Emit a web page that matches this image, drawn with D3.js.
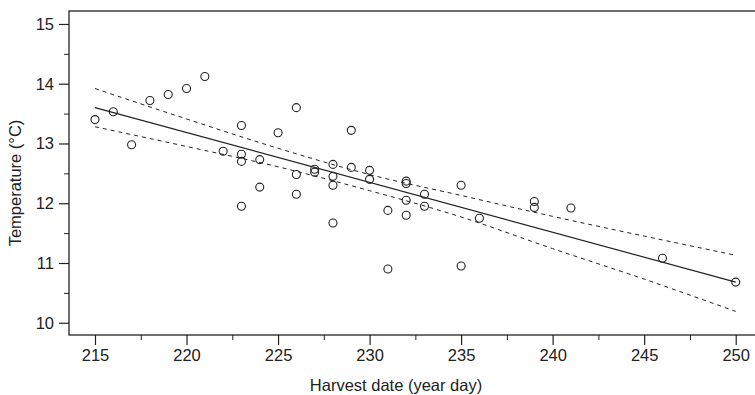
<!DOCTYPE html>
<html>
<head>
<meta charset="utf-8">
<script src="https://cdn.jsdelivr.net/npm/d3@7"></script>
<style>
  body { margin: 0; background: #fff; }
  svg { display: block; font-family: "Liberation Sans", Arial, Helvetica, sans-serif; }
  .axis path, .axis line { stroke: #222; }
  .axis text { fill: #222; font-size: 16.5px; }
</style>
</head>
<body>
<div id="chart"></div>
<script>
// harvest day / temperature observations
const harvestDay = [215, 216, 217, 218, 219, 220, 221, 222, 223, 223, 223, 223,
  224, 224, 225, 226, 226, 226, 227, 227, 228, 228, 228, 228, 229, 229,
  230, 230, 231, 231, 232, 232, 232, 232, 233, 233, 235, 235, 236, 239, 239,
  241, 246, 250];
const temperature = [13.40, 13.53, 12.98, 13.72, 13.82, 13.92, 14.12, 12.87, 13.30, 12.82, 12.70, 11.95,
  12.73, 12.27, 13.18, 13.60, 12.48, 12.15, 12.57, 12.52, 12.65, 12.45, 12.30, 11.67, 13.22, 12.60,
  12.55, 12.40, 11.88, 10.90, 12.37, 12.33, 12.05, 11.80, 12.15, 11.95, 12.30, 10.95, 11.75, 12.03, 11.93,
  11.92, 11.08, 10.68];

// fitted line and confidence band
const fitDay = [215, 250];
const fitTemp = [13.60, 10.68];
const bandDay = [215, 220, 225, 230, 235, 240, 245, 250];
const bandUpper = [13.92, 13.41, 12.92, 12.48, 12.13, 11.78, 11.45, 11.13];
const bandLower = [13.28, 12.95, 12.61, 12.21, 11.77, 11.24, 10.73, 10.19];

const xTicks = [215, 220, 225, 230, 235, 240, 245, 250];
const xMinor = [217.5, 222.5, 227.5, 232.5, 237.5, 242.5, 247.5];
const yTicks = [10, 11, 12, 13, 14, 15];
const yMinor = [10.5, 11.5, 12.5, 13.5, 14.5];

const W = 755, H = 395;
const margin = { top: 11, left: 69, bottom: 60 };

const svg = d3.select("#chart").append("svg")
  .attr("width", W)
  .attr("height", H);

const x = d3.scaleLinear()
  .domain([213.58, 252])
  .range([margin.left, margin.left + 38.42 * 18.306]);

const y = d3.scaleLinear()
  .domain([9.795, 15.217])
  .range([H - margin.bottom, margin.top]);

// frame (top edge runs off the right side)
svg.append("rect")
  .attr("x", x(213.58))
  .attr("y", y(15.217))
  .attr("width", x(252) - x(213.58))
  .attr("height", y(9.795) - y(15.217))
  .attr("fill", "none")
  .attr("stroke", "#222")
  .attr("stroke-width", 1.3);

// x axis
const gx = svg.append("g")
  .attr("class", "axis")
  .attr("transform", `translate(0,${y(9.795)})`);
gx.call(d3.axisBottom(x).tickValues(xTicks).tickSize(10).tickSizeOuter(0).tickPadding(4).tickFormat(d3.format("d")))
  .call(g => g.select(".domain").remove());
gx.selectAll("line").attr("stroke-width", 1.2);

svg.append("g")
  .attr("class", "axis")
  .attr("transform", `translate(0,${y(9.795)})`)
  .call(d3.axisBottom(x).tickValues(xMinor).tickSize(5).tickFormat(""))
  .call(g => g.select(".domain").remove());

// y axis
const gy = svg.append("g")
  .attr("class", "axis")
  .attr("transform", `translate(${x(213.58)},0)`);
gy.call(d3.axisLeft(y).tickValues(yTicks).tickSize(10).tickSizeOuter(0).tickPadding(5).tickFormat(d3.format("d")))
  .call(g => g.select(".domain").remove());
gy.selectAll("line").attr("stroke-width", 1.2);

svg.append("g")
  .attr("class", "axis")
  .attr("transform", `translate(${x(213.58)},0)`)
  .call(d3.axisLeft(y).tickValues(yMinor).tickSize(5).tickFormat(""))
  .call(g => g.select(".domain").remove());

// axis titles
svg.append("text")
  .attr("x", 396)
  .attr("y", 391)
  .attr("text-anchor", "middle")
  .attr("font-size", "16.5px")
  .attr("fill", "#222")
  .text("Harvest date (year day)");

svg.append("text")
  .attr("transform", `translate(21,${(y(9.795) + y(15.217)) / 2 + 10}) rotate(-90)`)
  .attr("text-anchor", "middle")
  .attr("font-size", "16.5px")
  .attr("fill", "#222")
  .text("Temperature (°C)");

// confidence band
const line = d3.line().x(d => x(d[0])).y(d => y(d[1]));
[bandUpper, bandLower].forEach(b => {
  svg.append("path")
    .datum(bandDay.map((d, i) => [d, b[i]]))
    .attr("d", line.curve(d3.curveMonotoneX))
    .attr("fill", "none")
    .attr("stroke", "#222")
    .attr("stroke-width", 1)
    .attr("stroke-dasharray", "4,4");
});

// fitted line
svg.append("path")
  .datum(fitDay.map((d, i) => [d, fitTemp[i]]))
  .attr("d", d3.line().x(d => x(d[0])).y(d => y(d[1])))
  .attr("fill", "none")
  .attr("stroke", "#222")
  .attr("stroke-width", 1.2);

// points
svg.selectAll(".pt")
  .data(harvestDay.map((d, i) => [d, temperature[i]]))
  .enter()
  .append("circle")
  .attr("class", "pt")
  .attr("cx", d => x(d[0]))
  .attr("cy", d => y(d[1]))
  .attr("r", 4)
  .attr("fill", "none")
  .attr("stroke", "#222")
  .attr("stroke-width", 1.1);
</script>
</body>
</html>
